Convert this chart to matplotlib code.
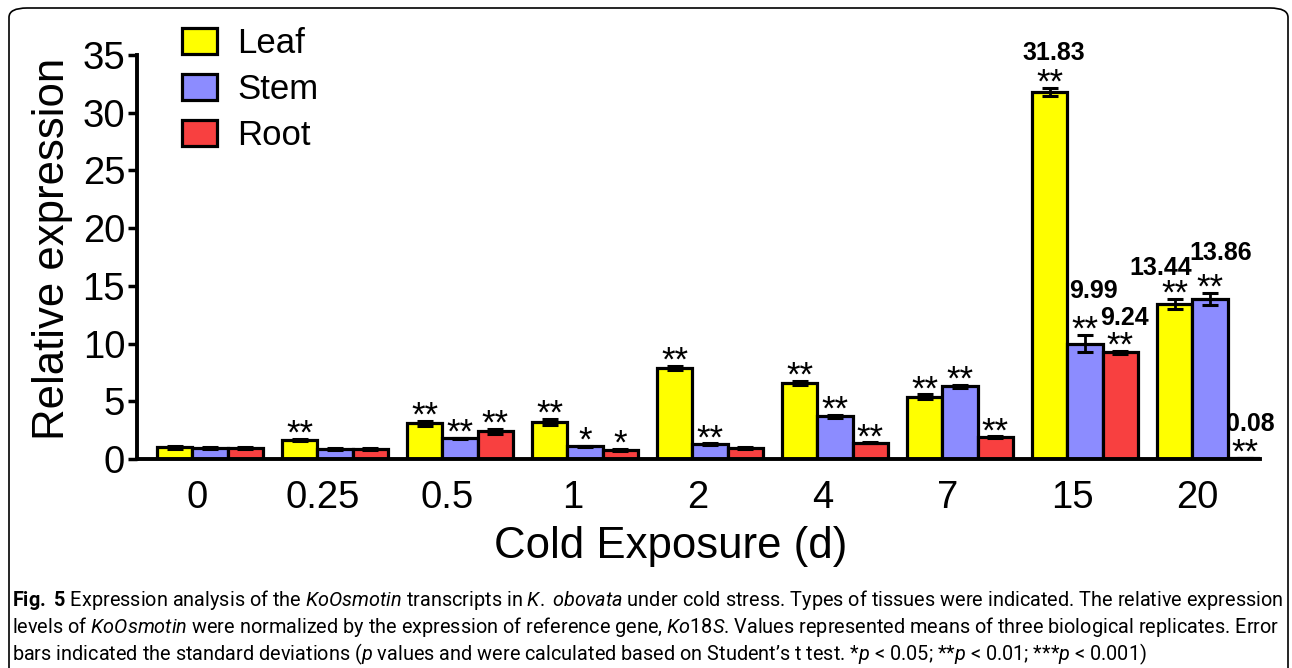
import matplotlib
matplotlib.use("Agg")
import matplotlib.pyplot as plt
import numpy as np
from matplotlib.patches import FancyBboxPatch, Patch

# data
days = ["0", "0.25", "0.5", "1", "2", "4", "7", "15", "20"]
leaf = [1.0, 1.65, 3.1, 3.2, 7.9, 6.6, 5.4, 31.83, 13.44]
stem = [0.95, 0.87, 1.8, 1.1, 1.3, 3.7, 6.3, 9.99, 13.86]
root = [0.95, 0.87, 2.4, 0.8, 0.95, 1.4, 1.9, 9.24, 0.08]
leaf_err = [0.1, 0.12, 0.2, 0.25, 0.15, 0.15, 0.2, 0.35, 0.45]
stem_err = [0.05, 0.12, 0.05, 0.05, 0.05, 0.12, 0.12, 0.75, 0.5]
root_err = [0.05, 0.05, 0.2, 0.1, 0.12, 0.05, 0.05, 0.12, 0.02]
leaf_sig = ["", "**", "**", "**", "**", "**", "**", "**", "**"]
stem_sig = ["", "", "**", "*", "**", "**", "**", "**", "**"]
root_sig = ["", "", "**", "*", "", "**", "**", "**", "**"]
# numbers printed above some bars, with a small offset (points) to place them
value_labels = {("leaf", 7): ("31.83", 3, 20), ("stem", 7): ("9.99", 6, 27),
                ("root", 7): ("9.24", 3, 19), ("leaf", 8): ("13.44", -10, 17),
                ("stem", 8): ("13.86", 8, 24), ("root", 8): ("0.08", 4, 19)}

plt.rcParams['font.family'] = ['Liberation Sans', 'DejaVu Sans']

fig = plt.figure(figsize=(12.92, 6.68), dpi=100)
ax = fig.add_axes([137 / 1292, 209 / 668, 1123 / 1292, 404 / 668])

x = np.arange(len(days))
w = 0.282
series = [("leaf", leaf, leaf_err, leaf_sig, "#ffff00", "Leaf"),
          ("stem", stem, stem_err, stem_sig, "#8c8cff", "Stem"),
          ("root", root, root_err, root_sig, "#f84040", "Root")]

for k, (name, vals, errs, sigs, col, lab) in enumerate(series):
    pos = x + (k - 1) * w
    ax.bar(pos, vals, w, color=col, edgecolor="black", linewidth=2.3, zorder=2)
    ax.errorbar(pos, vals, yerr=errs, fmt="none", ecolor="black", elinewidth=2,
                capsize=5.5, capthick=2.2, zorder=3)
    for i in range(len(days)):
        top = vals[i] + errs[i]
        if sigs[i]:
            ax.annotate(sigs[i], (pos[i], top), xytext=(0, -3.5), textcoords="offset points",
                        ha="center", va="baseline", fontsize=25, zorder=4)
        if (name, i) in value_labels:
            txt, dx, dy = value_labels[(name, i)]
            ax.annotate(txt, (pos[i], top), xytext=(dx, dy), textcoords="offset points",
                        ha="center", va="baseline", fontsize=18, fontweight="bold", zorder=4)

ax.set_xlim(-0.584, 8.4)
ax.set_ylim(0, 35)
ax.set_yticks(range(0, 36, 5))
ax.set_xticks(x - 0.1)
ax.set_xticklabels(days)
ax.tick_params(axis="y", labelsize=27.5, width=2.5, length=6.5, pad=2)
ax.tick_params(axis="x", labelsize=27.5, length=0, pad=15)
for s in ["top", "right"]:
    ax.spines[s].set_visible(False)
for s in ["left", "bottom"]:
    ax.spines[s].set_linewidth(2.8)
ax.set_ylabel("Relative expression", fontsize=31.5)
ax.yaxis.set_label_coords(-0.057, 0.52)
ax.set_xlabel("Cold Exposure (d)", fontsize=31.5)
ax.xaxis.set_label_coords(0.4755, -0.165)

handles = [Patch(facecolor=s[4], edgecolor="black", linewidth=2.3) for s in series]
ax.legend(handles, [s[5] for s in series], loc="upper left",
          bbox_to_anchor=(182 / 1292, 1 - 27 / 668), bbox_transform=fig.transFigure,
          frameon=False, fontsize=25, borderpad=0, borderaxespad=0,
          handlelength=1.0, handleheight=0.76, labelspacing=0.38, handletextpad=0.6)

# caption
plt.rcParams['mathtext.fontset'] = 'custom'
plt.rcParams['mathtext.rm'] = 'Roboto'
plt.rcParams['mathtext.it'] = 'Roboto:italic'
plt.rcParams['mathtext.bf'] = 'Roboto:bold'
cap = [
    r"$\mathbf{Fig.}$ $\mathbf{5}$ Expression analysis of the $\mathit{KoOsmotin}$ transcripts in $\mathit{K.}$ $\mathit{obovata}$ under cold stress. Types of tissues were indicated. The relative expression",
    r"levels of $\mathit{KoOsmotin}$ were normalized by the expression of reference gene, $\mathit{Ko18S}$. Values represented means of three biological replicates. Error",
    r"bars indicated the standard deviations ($\mathit{p}$ values and were calculated based on Student’s t test. *$\mathit{p}$ < 0.05; **$\mathit{p}$ < 0.01; ***$\mathit{p}$ < 0.001)",
]
cap_texts = []
for j, line in enumerate(cap):
    t = fig.text(12 / 1292, 1 - (606 + 27 * j) / 668, line, fontsize=12,
                 family=['Roboto', 'DejaVu Sans'], va="baseline", ha="left")
    cap_texts.append(t)
# size the caption so the first line fills the width like in the original
r = fig.canvas.get_renderer()
wpx = cap_texts[0].get_window_extent(r).width
scale = 1265 / wpx
for t in cap_texts:
    t.set_fontsize(12 * scale)

box = FancyBboxPatch((9 / 1292, -0.03), 1279 / 1292, 1 + 0.03 - 8 / 668,
                     boxstyle="round,pad=0,rounding_size=0.014",
                     transform=fig.transFigure, fill=False, edgecolor="black", linewidth=1.2)
fig.patches.append(box)

fig.savefig("out.png", dpi=100)
